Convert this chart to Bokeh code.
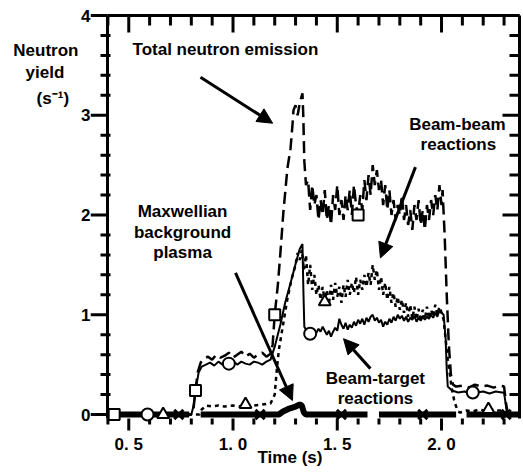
from bokeh.plotting import figure
from bokeh.models import Range1d, FixedTicker, LinearAxis, Label, Arrow, NormalHead
from bokeh.embed import file_html
from bokeh.resources import INLINE

NB = "\u00a0"

# ---------------- data ----------------
x_major_ticks = [0.5, 1.0, 1.5, 2.0]
x_tick_labels = ["0. 5", "1. 0", "1. 5", "2. 0"]
x_minor_ticks = [0.4, 0.6, 0.7, 0.8, 0.9, 1.1, 1.2, 1.3, 1.4, 1.6, 1.7, 1.8, 1.9, 2.1, 2.2, 2.3]
y_major_ticks = [0, 1, 2, 3, 4]
y_tick_labels = ["0", "1", "2", "3", "4"]
y_minor_ticks = [0.2, 0.4, 0.6, 0.8, 1.2, 1.4, 1.6, 1.8, 2.2, 2.4, 2.6, 2.8, 3.2, 3.4, 3.6, 3.8]

noisy_t = [round(1.36 + 0.01 * i, 2) for i in range(66)]  # 1.36 .. 2.01 time grid

# Total neutron emission (dashed, squares)
total_t = ([0.40, 0.80, 0.81, 0.82, 0.83, 0.845, 0.86, 0.88, 0.90, 0.92, 0.94, 0.96, 0.98, 1.00,
            1.02, 1.04, 1.06, 1.08, 1.10, 1.12, 1.14, 1.16, 1.18, 1.19, 1.20, 1.215, 1.228, 1.242,
            1.261, 1.276, 1.285, 1.29, 1.30, 1.31, 1.32, 1.333, 1.337, 1.342, 1.35]
           + noisy_t[:65]
           + [2.005, 2.015, 2.025, 2.035, 2.045, 2.055, 2.07, 2.10, 2.13, 2.16, 2.19, 2.22, 2.25,
              2.28, 2.30, 2.31, 2.32, 2.374])
total_y = ([0, 0, 0.05, 0.24, 0.42, 0.52, 0.56, 0.58, 0.55, 0.60, 0.57, 0.59, 0.62, 0.57,
            0.60, 0.63, 0.58, 0.61, 0.57, 0.60, 0.62, 0.58, 0.61, 0.70, 1.00, 1.30, 1.64, 2.04,
            2.47, 2.67, 2.90, 3.05, 3.10, 3.00, 3.12, 3.22, 3.00, 2.54, 2.30]
           + [2.35, 2.05, 2.30, 2.10, 2.20, 1.95, 2.15, 2.00, 2.25, 1.95,
              2.10, 1.90, 2.20, 2.05, 2.30, 2.00, 2.15, 1.95, 2.20, 2.05,
              2.25, 2.00, 2.30, 2.10, 2.00, 2.20, 2.05, 2.35, 2.15, 2.40,
              2.20, 2.50, 2.30, 2.45, 2.25, 2.35, 2.10, 2.30, 2.05, 2.25,
              2.00, 2.15, 1.95, 2.10, 2.00, 2.20, 1.95, 2.10, 1.90, 2.05,
              1.85, 2.10, 1.95, 2.15, 1.90, 2.05, 1.85, 2.10, 1.95, 2.15,
              2.00, 2.20, 2.05, 2.30, 2.10]
           + [2.25, 1.80, 1.20, 0.70, 0.40, 0.30, 0.28, 0.29, 0.27, 0.30, 0.28, 0.29, 0.27,
              0.29, 0.28, 0.10, 0, 0])
total_mark_t = [0.43, 0.82, 1.20, 1.60]
total_mark_y = [0, 0.24, 1.00, 2.00]

# Beam-target reactions (solid, circles)
bt_t = ([0.40, 0.80, 0.81, 0.82, 0.835, 0.85, 0.87, 0.89, 0.91, 0.93, 0.95, 0.97, 0.98, 1.00,
         1.02, 1.04, 1.06, 1.08, 1.10, 1.12, 1.14, 1.16, 1.18, 1.20, 1.227, 1.25, 1.275, 1.30,
         1.32, 1.333, 1.338, 1.342, 1.35]
        + noisy_t
        + [2.02, 2.025, 2.03, 2.05, 2.08, 2.11, 2.14, 2.17, 2.20, 2.23, 2.26, 2.29, 2.30, 2.315, 2.374])
bt_y = ([0, 0, 0.08, 0.24, 0.42, 0.48, 0.50, 0.52, 0.49, 0.53, 0.50, 0.52, 0.51, 0.54,
         0.50, 0.53, 0.51, 0.50, 0.53, 0.52, 0.50, 0.53, 0.55, 0.68, 0.90, 1.12, 1.31, 1.51,
         1.66, 1.71, 1.20, 0.88, 0.85]
        + [0.84, 0.80, 0.83, 0.79, 0.82, 0.86, 0.83, 0.88, 0.84, 0.80,
           0.84, 0.78, 0.83, 0.87, 0.84, 0.96, 0.90, 0.86, 0.92, 0.85,
           0.90, 0.87, 0.93, 0.89, 0.95, 0.91, 0.96, 0.90, 0.97, 0.93,
           0.98, 1.00, 0.94, 0.97, 0.92, 0.95, 0.88, 0.93, 0.90, 0.96,
           0.92, 0.98, 0.94, 1.00, 0.96, 0.99, 0.94, 0.98, 0.93, 0.97,
           0.95, 0.99, 0.93, 0.97, 0.94, 0.99, 0.95, 0.98, 0.96, 1.00,
           0.97, 1.02, 0.98, 1.04, 1.02, 1.00]
        + [0.75, 0.45, 0.28, 0.24, 0.22, 0.23, 0.21, 0.22, 0.23, 0.21, 0.23, 0.22, 0.22, 0, 0])
bt_mark_t = [0.59, 0.98, 1.37, 2.15]
bt_mark_y = [0, 0.51, 0.81, 0.22]

# Beam-beam reactions (dotted, triangles)
bb_t = ([0.40, 0.84, 0.85, 0.87, 0.90, 0.93, 0.96, 1.00, 1.03, 1.06, 1.10, 1.14, 1.18, 1.20,
         1.21, 1.22, 1.24, 1.26, 1.28, 1.30, 1.31, 1.32, 1.33]
        + [round(1.34 + 0.01 * i, 2) for i in range(75)]
        + [2.09, 2.12, 2.15, 2.18, 2.21, 2.24, 2.27, 2.30, 2.31, 2.374])
bb_y = ([0, 0, 0.05, 0.09, 0.08, 0.09, 0.08, 0.09, 0.08, 0.10, 0.09, 0.10, 0.11, 0.20,
         0.45, 0.65, 0.90, 1.15, 1.35, 1.50, 1.62, 1.55, 1.65]
        + [1.45, 1.60, 1.30, 1.50, 1.25, 1.40, 1.20, 1.30, 1.15, 1.28,
           1.13, 1.25, 1.10, 1.30, 1.15, 1.32, 1.18, 1.28, 1.12, 1.30,
           1.18, 1.35, 1.20, 1.32, 1.22, 1.38, 1.20, 1.35, 1.25, 1.40,
           1.28, 1.42, 1.30, 1.50, 1.35, 1.45, 1.25, 1.38, 1.20, 1.32,
           1.15, 1.28, 1.12, 1.22, 1.08, 1.18, 1.05, 1.15, 1.02, 1.12,
           0.98, 1.10, 0.96, 1.08, 0.95, 1.06, 0.93, 1.05, 0.95, 1.08,
           0.96, 1.05, 0.98, 1.10, 1.00, 1.08, 1.02, 0.95, 0.75, 0.55,
           0.40, 0.25, 0.15, 0.08, 0.03]
        + [0.02, 0.04, 0.03, 0.05, 0.04, 0.05, 0.04, 0.04, 0, 0])
bb_mark_t = [0.665, 1.06, 1.44, 2.225]
bb_mark_y = [0, 0.10, 1.13, 0.05]

# Maxwellian background plasma (solid, crosses) - segments between data gaps
mx_t = [[0.40, 0.79],
        [0.845, 1.22, 1.24, 1.27, 1.30, 1.32, 1.33, 1.34, 1.35, 1.645],
        [1.70, 2.07],
        [2.12, 2.374]]
mx_y = [[0, 0],
        [0, 0, 0.03, 0.06, 0.08, 0.10, 0.09, 0.02, 0, 0],
        [0, 0],
        [0, 0]]
mx_mark_t = [0.74, 1.13, 1.52, 1.91, 2.31]
mx_mark_y = [0, 0, 0, 0, 0]

# y-axis title lines (labels of an extra left axis)
ylab_pos = [3.65, 3.43, 3.17]
ylab_text = ["Neutron", "yield" + NB * 3, "(s\u207b\u00b9)" + NB * 2]

# ---------------- geometry ----------------
FS = "17px"
X0, X1 = 0.398, 2.374          # plotting box (axis frame) in data units
Y0, Y1 = -0.04, 4.0
BOX_W, BOX_H = 412, 403        # plotting box size in pixels
PX = BOX_W / (X1 - X0)         # pixels per x unit
PY = BOX_H / (Y1 - Y0)         # pixels per y unit
PAD_L, PAD_R, PAD_T, PAD_B = 17, 3, 3, 13   # room for outward ticks / line widths

p = figure(width=523, height=473,
           x_range=Range1d(X0 - PAD_L / PX, X1 + PAD_R / PX),
           y_range=Range1d(Y0 - PAD_B / PY, Y1 + PAD_T / PY),
           output_backend="svg", toolbar_location=None,
           min_border_left=107 - PAD_L, min_border_right=523 - 107 - BOX_W - PAD_R,
           min_border_top=15 - PAD_T, min_border_bottom=473 - 15 - BOX_H - PAD_B)
p.outline_line_color = None
p.grid.visible = False

# library axes carry the tick labels and axis titles (default font family)
xa = p.xaxis[0]
xa.ticker = FixedTicker(ticks=x_major_ticks)
xa.major_label_overrides = {t: l for t, l in zip(x_major_ticks, x_tick_labels)}
xa.axis_line_color = None
xa.major_tick_line_color = None
xa.minor_tick_line_color = None
xa.major_tick_in = 0
xa.major_tick_out = 0
xa.major_label_standoff = 3
xa.major_label_text_font_style = "bold"
xa.major_label_text_font_size = FS
xa.major_label_text_color = "black"
xa.axis_label = "Time (s)" + NB * 7
xa.axis_label_text_font_style = "bold"
xa.axis_label_text_font_size = FS
xa.axis_label_text_color = "black"
xa.axis_label_standoff = -9

ya = p.yaxis[0]
ya.ticker = FixedTicker(ticks=y_major_ticks)
ya.major_label_overrides = {t: l for t, l in zip(y_major_ticks, y_tick_labels)}
ya.axis_line_color = None
ya.major_tick_line_color = None
ya.minor_tick_line_color = None
ya.major_tick_in = 0
ya.major_tick_out = 0
ya.major_label_standoff = 0
ya.major_label_text_font_style = "bold"
ya.major_label_text_font_size = FS
ya.major_label_text_color = "black"

yl = LinearAxis(ticker=FixedTicker(ticks=ylab_pos),
                major_label_overrides={t: l for t, l in zip(ylab_pos, ylab_text)},
                axis_line_color=None, major_tick_line_color=None, minor_tick_line_color=None,
                major_tick_in=0, major_tick_out=0, minor_tick_in=0, minor_tick_out=0,
                major_label_standoff=0,
                major_label_text_font_style="bold", major_label_text_font_size=FS,
                major_label_text_color="black")
p.add_layout(yl, "left")

# ---- frame lines and tick marks, drawn before the curves ----
sx0, sy0, sx1, sy1 = [X0, X0, X1], [Y0, Y1, Y0], [X0, X1, X1], [Y1, Y1, Y1]
for y in y_major_ticks:
    sx0 += [X0 - 17 / PX, X1 - 17 / PX]; sx1 += [X0, X1]; sy0 += [y, y]; sy1 += [y, y]
for y in y_minor_ticks:
    sx0 += [X0 - 7 / PX, X1 - 10 / PX]; sx1 += [X0 + 3 / PX, X1]; sy0 += [y, y]; sy1 += [y, y]
for x in x_major_ticks:
    sx0 += [x, x]; sx1 += [x, x]; sy0 += [Y1, Y0]; sy1 += [Y1 - 17 / PY, Y0 - 12 / PY]
for x in x_minor_ticks:
    sx0 += [x, x]; sx1 += [x, x]; sy0 += [Y1, Y0]; sy1 += [Y1 - 10 / PY, Y0 - 6 / PY]
p.segment(x0=sx0, y0=sy0, x1=sx1, y1=sy1, line_color="black", line_width=3)

# curves
p.multi_line(mx_t, mx_y, line_color="black", line_width=6)
p.line(bb_t, bb_y, line_color="black", line_width=2.5, line_dash="4 4")
p.line(bt_t, bt_y, line_color="black", line_width=2)
p.line(total_t, total_y, line_color="black", line_width=2.5, line_dash="12 6")

p.scatter(total_mark_t, total_mark_y, marker="square", size=11, fill_color="white",
          line_color="black", line_width=2)
p.scatter(bt_mark_t, bt_mark_y, marker="circle", size=12, fill_color="white",
          line_color="black", line_width=2)
p.scatter(bb_mark_t, bb_mark_y, marker="triangle", size=12, fill_color="white",
          line_color="black", line_width=2)
p.scatter(mx_mark_t, mx_mark_y, marker="x", size=13, line_color="black", line_width=3)

# annotations (text inside the frame; y is the text's bottom edge)
def lab(x, y, text, align="center"):
    p.add_layout(Label(x=x, y=y - 0.09, text=text, text_font_style="bold",
                       text_font_size=FS, text_color="black", text_align=align))

lab(0.518, 3.65, "Total neutron emission", align="left")
lab(2.076, 2.90, "Beam-beam")
lab(2.081, 2.70, "reactions")
lab(0.758, 2.03, "Maxwellian")
lab(0.758, 1.82, "background")
lab(0.758, 1.62, "plasma")
lab(1.683, 0.36, "Beam-target")
lab(1.683, 0.16, "reactions")

# arrows
def arrow(x0, y0, x1, y1):
    p.add_layout(Arrow(end=NormalHead(size=15, fill_color="black", line_color="black", line_width=1),
                       x_start=x0, y_start=y0, x_end=x1, y_end=y1,
                       line_color="black", line_width=3))

arrow(0.844, 3.38, 1.19, 2.92)
arrow(1.875, 2.48, 1.707, 1.57)
arrow(1.659, 0.46, 1.53, 0.76)
arrow(1.012, 1.42, 1.285, 0.14)

open("out.html", "w").write(file_html(p, INLINE))
